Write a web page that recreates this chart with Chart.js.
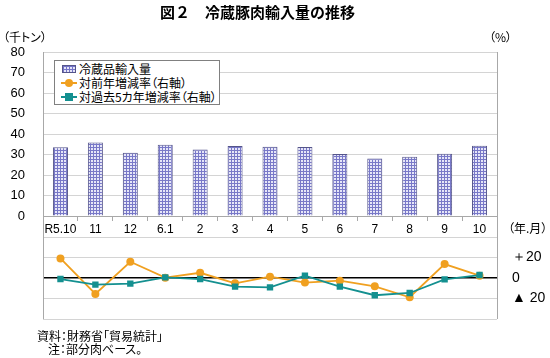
<!DOCTYPE html>
<html><head><meta charset="utf-8">
<script src="https://cdn.jsdelivr.net/npm/chart.js@4"></script>
<style>
body{margin:0;width:550px;height:358px;position:relative;background:#fff;font-family:"Noto Sans CJK JP",sans-serif;overflow:hidden;font-feature-settings:"palt"}
canvas{position:absolute;left:0;top:0}
.t{position:absolute;white-space:nowrap;color:#000;line-height:1}
#legend{position:absolute;left:54px;top:60px;width:166px;height:45px;border:1px solid #808080;background:#fff;box-sizing:border-box;padding-top:1px}
.li{height:14px;display:flex;align-items:center;font-size:12px;line-height:14px}
.sym{width:16px;height:14px;position:relative;margin-left:6px;margin-right:2px;flex:none}
.bar{position:absolute;left:1px;top:3px;width:14px;height:8px;box-sizing:border-box;border:1px solid #55558a;background-color:#e4e4f7;background-image:linear-gradient(#7474c8 1px,transparent 1px),linear-gradient(90deg,#7474c8 1px,transparent 1px);background-size:3px 3px}
.ln{position:absolute;left:0;top:6px;width:16px;height:2px}
.dot{position:absolute;left:4px;top:3px;width:8px;height:8px;border-radius:50%}
.sq{position:absolute;left:4px;top:3px;width:8px;height:8px}
</style></head><body>
<canvas id="c1" width="550" height="358"></canvas>
<canvas id="c2" width="550" height="358"></canvas>
<div class="t" style="left:160px;top:4px;font-size:15px;font-weight:bold;font-feature-settings:normal">図２　冷蔵豚肉輸入量の推移</div>
<div class="t" style="left:3px;top:31px;font-size:12px">（千トン）</div>
<div class="t" style="left:489px;top:31px;font-size:12px">（%）</div>
<div class="t" style="left:508px;top:222px;font-size:12px">（年.月）</div>
<div class="t" style="left:37px;top:330px;font-size:12px">資料：財務省「貿易統計」</div>
<div class="t" style="left:48px;top:343px;font-size:12px">注：部分肉ベース。</div>
<div id="legend">
 <div class="li"><span class="sym"><span class="bar"></span></span>冷蔵品輸入量</div>
 <div class="li"><span class="sym"><span class="ln" style="background:#f0a020"></span><span class="dot" style="background:#f0a020"></span></span>対前年増減率（右軸）</div>
 <div class="li"><span class="sym"><span class="ln" style="background:#149090"></span><span class="sq" style="background:#149090"></span></span>対過去5カ年増減率（右軸）</div>
</div>
<script>
const categories = ['R5.10','11','12','6.1','2','3','4','5','6','7','8','9','10'];
const importVolume = [33.5,35.8,30.9,34.8,32.5,34.1,33.8,33.7,30.2,28.0,28.9,30.4,34.3];
const yoyChange = [19.1,-15.5,15.8,0.3,5.1,-5.2,1.3,-4.5,-2.6,-8.1,-18.8,13.6,2.3];
const fiveYearChange = [-1.0,-6.5,-5.5,0.6,-1.0,-8.4,-9.1,2.3,-8.4,-16.8,-14.6,-1.3,2.9];
const rightTickLabels = {'20':'＋20','0':'0','-20':'▲ 20'};

const numFont = 'Liberation Sans, Arial, sans-serif';
let topArea = null;

function makePattern(){
  const p=document.createElement('canvas');p.width=3;p.height=3;
  const g=p.getContext('2d');
  g.fillStyle='#e6e6f8';g.fillRect(0,0,3,3);
  g.fillStyle='#7878c8';g.fillRect(0,0,3,1);g.fillRect(0,0,1,3);
  return g.createPattern(p,'repeat');
}

new Chart(document.getElementById('c1'),{
  type:'bar',
  data:{labels:categories,datasets:[{label:'冷蔵品輸入量',data:importVolume,backgroundColor:makePattern(),borderColor:'#55558a',borderWidth:1,categoryPercentage:1,barPercentage:0.43}]},
  options:{responsive:false,animation:false,events:[],devicePixelRatio:1,
    layout:{padding:{top:52,right:53,bottom:122,left:0}},
    plugins:{legend:{display:false},tooltip:{enabled:false}},
    scales:{
      x:{grid:{display:true,drawOnChartArea:false,drawTicks:true,tickLength:5,color:'#a8a8a8',offset:true},
         border:{color:'#a8a8a8'},
         ticks:{color:'#000',font:{family:numFont,size:12},padding:1,maxRotation:0,autoSkip:false},
         afterFit(s){s.height=20;}},
      y:{min:0,max:80,ticks:{stepSize:10,color:'#000',font:{family:numFont,size:13},padding:18},
         grid:{color:'#d4d4d4',drawTicks:false},border:{color:'#a8a8a8'},
         afterFit(s){s.width=43;}}
    }
  },
  plugins:[{id:'area',afterLayout(ch){topArea=ch.chartArea;}}]
});

const frame = {id:'frame',afterDraw(ch){
  const a=ch.chartArea, g=ch.ctx;
  const top = topArea ? topArea.top : a.top;
  g.save();g.strokeStyle='#a8a8a8';g.lineWidth=1;
  g.beginPath();
  g.moveTo(Math.round(a.left)+0.5,top);g.lineTo(Math.round(a.left)+0.5,a.bottom);
  g.moveTo(Math.round(a.right)+0.5,top);g.lineTo(Math.round(a.right)+0.5,a.bottom);
  g.stroke();g.restore();
}};

new Chart(document.getElementById('c2'),{
  type:'line',
  data:{labels:categories,datasets:[
    {label:'対前年増減率（右軸）',data:yoyChange,borderColor:'#f0a020',backgroundColor:'#f0a020',pointStyle:'circle',pointRadius:4,pointBorderWidth:0,borderWidth:1.8,order:1},
    {label:'対過去5カ年増減率（右軸）',data:fiveYearChange,borderColor:'#149090',backgroundColor:'#149090',pointStyle:'rect',pointRadius:4.5,pointBorderWidth:0,borderWidth:1.8,order:0}
  ]},
  options:{responsive:false,animation:false,events:[],devicePixelRatio:1,
    layout:{padding:{top:237,right:0,bottom:39,left:43}},
    plugins:{legend:{display:false},tooltip:{enabled:false}},
    scales:{
      x:{display:false,offset:true},
      y:{position:'right',min:-40,max:40,
         ticks:{stepSize:20,color:'#000',font:{family:numFont,size:14},padding:15,
           callback:(v)=>rightTickLabels[String(v)]||''},
         grid:{drawTicks:false,color:(c)=>c.tick.value===0?'#000':'#d4d4d4',lineWidth:(c)=>c.tick.value===0?1.6:1},
         border:{display:false},
         afterFit(s){s.width=53;}}
    }
  },
  plugins:[frame]
});
</script>
</body></html>
